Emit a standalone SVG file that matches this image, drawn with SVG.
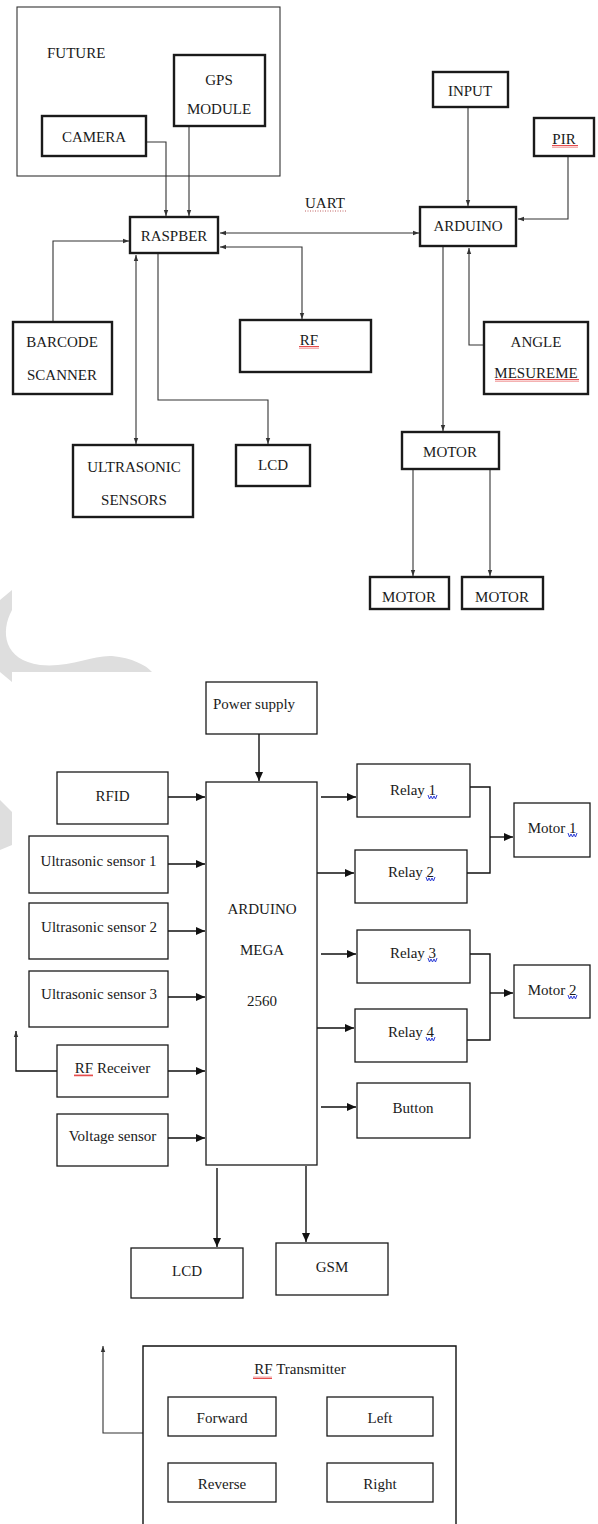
<svg xmlns="http://www.w3.org/2000/svg" width="598" height="1524" viewBox="0 0 598 1524">
<style>
text{font-family:"Liberation Serif","Times New Roman",serif;font-size:15px;fill:#1a1a1a}
.c{text-anchor:middle}
.tb{fill:#fff;stroke:#1a1a1a;stroke-width:2.4}
.fr{fill:none;stroke:#333;stroke-width:1.1}
.mb{fill:#fff;stroke:#1a1a1a;stroke-width:1.3}
.ln{fill:none;stroke:#333;stroke-width:1.1}
.lm{fill:none;stroke:#111;stroke-width:1.4}
.wm{fill:#dedede;stroke:none}
.rw{fill:url(#redwave)}
.bw{fill:none;stroke:#2a3bd8;stroke-width:1}
</style>
<defs>
<marker id="sm" viewBox="0 0 6 6" refX="6" refY="3" markerWidth="6" markerHeight="6" markerUnits="userSpaceOnUse" orient="auto-start-reverse"><path d="M0,0.8 L6,3 L0,5.2 Z" fill="#333"/></marker>
<marker id="big" viewBox="0 0 9 8" refX="9" refY="4" markerWidth="9" markerHeight="8" markerUnits="userSpaceOnUse" orient="auto-start-reverse"><path d="M0,0 L9,4 L0,8 Z" fill="#111"/></marker>
<pattern id="redwave" width="2" height="3" patternUnits="userSpaceOnUse"><path d="M0,2.5 L1,0.5 L2,2.5" fill="none" stroke="#e02020" stroke-width="0.8"/></pattern>
</defs>

<g id="watermark">
<path class="wm" d="M0,600 L12,590 L12,610 C0,632 4,660 40,665 C70,668 92,655 112,656 C132,658 146,665 152,672 L12,672 L12,682 L0,672 Z"/>
<path class="wm" d="M0,800 L12,812 L12,845 L0,850 Z"/>
</g>

<g id="connectors">
<path class="ln" d="M146,142 H166 V216" marker-end="url(#sm)"/>
<path class="ln" d="M189,126 V216" marker-end="url(#sm)"/>
<path class="ln" d="M53,322 V241 H129" marker-end="url(#sm)"/>
<path class="ln" d="M220,233 H419" marker-start="url(#sm)" marker-end="url(#sm)"/>
<path class="ln" d="M220,247 H302 V319" marker-start="url(#sm)" marker-end="url(#sm)"/>
<path class="ln" d="M136,255 V444" marker-start="url(#sm)" marker-end="url(#sm)"/>
<path class="ln" d="M158,254 V400 H268 V444" marker-end="url(#sm)"/>
<path class="ln" d="M468,108 V206" marker-end="url(#sm)"/>
<path class="ln" d="M568,157 V219 H518" marker-end="url(#sm)"/>
<path class="ln" d="M484,345 H469 V248" marker-end="url(#sm)"/>
<path class="ln" d="M443,247 V431" marker-end="url(#sm)"/>
<path class="ln" d="M413,470 V576" marker-end="url(#sm)"/>
<path class="ln" d="M490,470 V576" marker-end="url(#sm)"/>

<path class="lm" d="M259,734 V781" marker-end="url(#big)"/>
<path class="lm" d="M168,797 H205" marker-end="url(#big)"/>
<path class="lm" d="M168,864 H205" marker-end="url(#big)"/>
<path class="lm" d="M168,931 H205" marker-end="url(#big)"/>
<path class="lm" d="M168,997 H205" marker-end="url(#big)"/>
<path class="lm" d="M168,1071 H205" marker-end="url(#big)"/>
<path class="lm" d="M57,1071 H16 V1031" marker-end="url(#sm)"/>
<path class="lm" d="M168,1138 H205" marker-end="url(#big)"/>
<path class="lm" d="M321,797 H356" marker-end="url(#big)"/>
<path class="lm" d="M317,873 H354" marker-end="url(#big)"/>
<path class="lm" d="M321,954 H356" marker-end="url(#big)"/>
<path class="lm" d="M317,1028 H354" marker-end="url(#big)"/>
<path class="lm" d="M321,1107 H356" marker-end="url(#big)"/>
<path class="lm" d="M470,787 H490 V873 H467"/>
<path class="lm" d="M490,837 H513" marker-end="url(#big)"/>
<path class="lm" d="M470,954 H490 V1040 H467"/>
<path class="lm" d="M490,993 H513" marker-end="url(#big)"/>
<path class="lm" d="M217,1168 V1247" marker-end="url(#big)"/>
<path class="lm" d="M306,1166 V1242" marker-end="url(#big)"/>
<path class="ln" d="M143,1433 H103 V1346" marker-end="url(#sm)"/>
</g>

<g id="future">
<rect class="fr" x="17" y="7" width="263" height="169"/>
<text x="47" y="58">FUTURE</text>
</g>
<g id="gps"><rect class="tb" x="174" y="55" width="91" height="71"/><text class="c" x="219" y="85">GPS</text><text class="c" x="219" y="114">MODULE</text></g>
<g id="camera"><rect class="tb" x="42" y="116" width="104" height="40"/><text class="c" x="94" y="142">CAMERA</text></g>
<g id="raspber"><rect class="tb" x="130" y="217" width="88" height="36"/><text class="c" x="174" y="241">RASPBER</text></g>
<g id="uart"><text x="305" y="208">UART</text><line x1="305" y1="211" x2="347" y2="211" stroke="#c06060" stroke-width="1" stroke-dasharray="1,1.5"/></g>
<g id="input"><rect class="tb" x="433" y="72" width="75" height="35"/><text class="c" x="470" y="96">INPUT</text></g>
<g id="pir"><rect class="tb" x="534" y="118" width="60" height="38"/><text class="c" x="564" y="144">PIR</text><rect class="rw" x="552" y="145" width="26" height="3"/></g>
<g id="arduino"><rect class="tb" x="420" y="207" width="96" height="39"/><text class="c" x="468" y="231">ARDUINO</text></g>
<g id="barcode"><rect class="tb" x="13" y="322" width="99" height="72"/><text class="c" x="62" y="347">BARCODE</text><text class="c" x="62" y="380">SCANNER</text></g>
<g id="rf"><rect class="tb" x="240" y="320" width="131" height="52"/><text class="c" x="309" y="345">RF</text><rect class="rw" x="299" y="346" width="20" height="3"/></g>
<g id="angle"><rect class="tb" x="484" y="322" width="104" height="72"/><text class="c" x="536" y="347">ANGLE</text><text class="c" x="536" y="378">MESUREME</text><rect class="rw" x="495" y="379" width="84" height="3"/></g>
<g id="ultrasonic"><rect class="tb" x="73" y="445" width="120" height="72"/><text class="c" x="134" y="472">ULTRASONIC</text><text class="c" x="134" y="505">SENSORS</text></g>
<g id="lcd1"><rect class="tb" x="236" y="445" width="74" height="41"/><text class="c" x="273" y="470">LCD</text></g>
<g id="motor"><rect class="tb" x="402" y="432" width="97" height="37"/><text class="c" x="450" y="457">MOTOR</text></g>
<g id="motor-l"><rect class="tb" x="370" y="577" width="79" height="32"/><text class="c" x="409" y="602">MOTOR</text></g>
<g id="motor-r"><rect class="tb" x="462" y="577" width="81" height="32"/><text class="c" x="502" y="602">MOTOR</text></g>

<g id="power"><rect class="mb" x="206" y="682" width="111" height="52"/><text x="213" y="709">Power supply</text></g>
<g id="mega"><rect class="mb" x="206" y="782" width="111" height="383"/><text class="c" x="262" y="914">ARDUINO</text><text class="c" x="262" y="955">MEGA</text><text class="c" x="262" y="1006">2560</text></g>
<g id="rfid"><rect class="mb" x="57" y="772" width="111" height="52"/><text class="c" x="112.5" y="801">RFID</text></g>
<g id="us1"><rect class="mb" x="29" y="836" width="139" height="57"/><text class="c" x="98.5" y="866">Ultrasonic sensor 1</text></g>
<g id="us2"><rect class="mb" x="29" y="903" width="139" height="56"/><text class="c" x="99" y="932">Ultrasonic sensor 2</text></g>
<g id="us3"><rect class="mb" x="29" y="971" width="139" height="56"/><text class="c" x="99" y="999">Ultrasonic sensor 3</text></g>
<g id="rfrx"><rect class="mb" x="57" y="1045" width="111" height="52"/><text class="c" x="112.5" y="1073">RF Receiver</text><rect class="rw" x="74" y="1074" width="19" height="3"/></g>
<g id="voltage"><rect class="mb" x="57" y="1114" width="111" height="52"/><text class="c" x="112.5" y="1141">Voltage sensor</text></g>
<g id="relay1"><rect class="mb" x="357" y="764" width="113" height="53"/><text class="c" x="413" y="795">Relay 1</text><path class="bw" d="M428,795 l1.5,4 l1.5,-3 l1.5,3 l1.5,-3 l1.5,3 l1.5,-4"/></g>
<g id="relay2"><rect class="mb" x="355" y="850" width="112" height="53"/><text class="c" x="411" y="877">Relay 2</text><path class="bw" d="M426,877 l1.5,4 l1.5,-3 l1.5,3 l1.5,-3 l1.5,3 l1.5,-4"/></g>
<g id="relay3"><rect class="mb" x="357" y="930" width="113" height="53"/><text class="c" x="413" y="958">Relay 3</text><path class="bw" d="M428,958 l1.5,4 l1.5,-3 l1.5,3 l1.5,-3 l1.5,3 l1.5,-4"/></g>
<g id="relay4"><rect class="mb" x="355" y="1009" width="112" height="53"/><text class="c" x="411" y="1037">Relay 4</text><path class="bw" d="M426,1037 l1.5,4 l1.5,-3 l1.5,3 l1.5,-3 l1.5,3 l1.5,-4"/></g>
<g id="button"><rect class="mb" x="357" y="1083" width="113" height="55"/><text class="c" x="413" y="1113">Button</text></g>
<g id="motor1"><rect class="mb" x="514" y="803" width="76" height="54"/><text class="c" x="552" y="833">Motor 1</text><path class="bw" d="M568,833 l1.5,4 l1.5,-3 l1.5,3 l1.5,-3 l1.5,3 l1.5,-4"/></g>
<g id="motor2"><rect class="mb" x="514" y="965" width="76" height="53"/><text class="c" x="552" y="995">Motor 2</text><path class="bw" d="M568,995 l1.5,4 l1.5,-3 l1.5,3 l1.5,-3 l1.5,3 l1.5,-4"/></g>
<g id="lcd2"><rect class="mb" x="131" y="1248" width="112" height="50"/><text class="c" x="187" y="1276">LCD</text></g>
<g id="gsm"><rect class="mb" x="276" y="1243" width="112" height="52"/><text class="c" x="332" y="1272">GSM</text></g>

<g id="rftx">
<path class="lm" d="M143,1526 V1346 H456 V1526"/>
<text class="c" x="300" y="1374">RF Transmitter</text>
<rect class="rw" x="253" y="1376" width="19" height="3"/>
</g>
<g id="forward"><rect class="mb" x="168" y="1397" width="108" height="39"/><text class="c" x="222" y="1423">Forward</text></g>
<g id="left"><rect class="mb" x="327" y="1397" width="106" height="39"/><text class="c" x="380" y="1423">Left</text></g>
<g id="reverse"><rect class="mb" x="168" y="1463" width="108" height="39"/><text class="c" x="222" y="1489">Reverse</text></g>
<g id="right"><rect class="mb" x="327" y="1463" width="106" height="39"/><text class="c" x="380" y="1489">Right</text></g>
</svg>
